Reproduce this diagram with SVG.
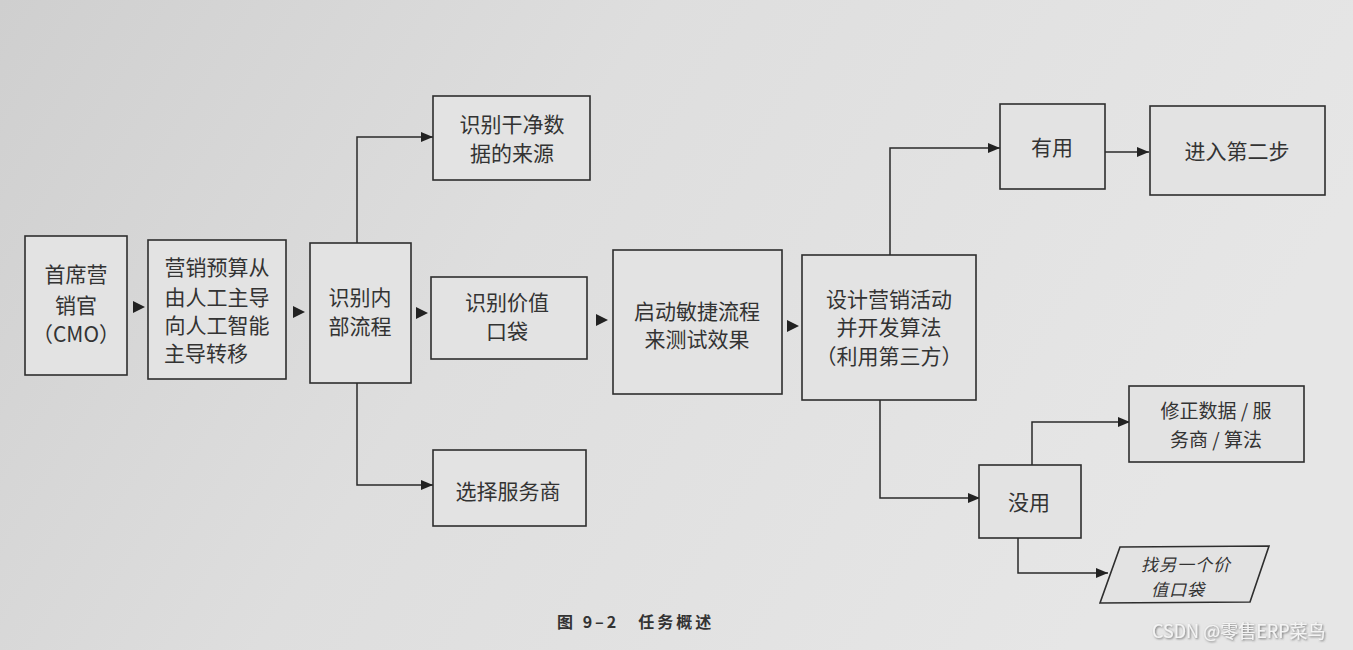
<svg xmlns="http://www.w3.org/2000/svg" width="1353" height="650" viewBox="0 0 1353 650">
<defs>
<linearGradient id="bg" x1="0" y1="0" x2="1" y2="0.3">
<stop offset="0" stop-color="#cfcfcf"/>
<stop offset="0.45" stop-color="#dedede"/>
<stop offset="1" stop-color="#e6e6e6"/>
</linearGradient>
<marker id="ah" viewBox="0 0 12 10" refX="12" refY="5" markerWidth="12" markerHeight="10" markerUnits="userSpaceOnUse" orient="auto">
<path d="M0,0 L12,5 L0,10 Z" fill="#222"/>
</marker>
<filter id="sh"><feDropShadow dx="1" dy="1" stdDeviation="0.8" flood-color="#555" flood-opacity="0.8"/></filter>
</defs>
<style>
.box{fill:#e3e3e3;stroke:#2e2e2e;stroke-width:1.6}
.t{font-family:"Noto Sans CJK SC","Noto Sans",sans-serif;font-size:21px;fill:#333;text-anchor:middle}
.s{font-size:19px}
.it{font-style:italic;font-size:17px;letter-spacing:1px}
.c{fill:none;stroke:#2a2a2a;stroke-width:1.5}
.a{fill:#222}
</style>
<rect width="1353" height="650" fill="url(#bg)"/>
<g id="connectors">
<path class="a" d="M133,301 L145,307 L133,313 Z"/>
<path class="a" d="M293,306 L305,312 L293,318 Z"/>
<path class="a" d="M416,307 L428,313 L416,319 Z"/>
<path class="a" d="M596,314 L608,320 L596,326 Z"/>
<path class="a" d="M787,320 L799,326 L787,332 Z"/>
<path class="c" d="M357,243 V137 H433" marker-end="url(#ah)"/>
<path class="c" d="M357,383 V485 H433" marker-end="url(#ah)"/>
<path class="c" d="M890,255 V148 H1000" marker-end="url(#ah)"/>
<path class="c" d="M1105,152 H1149" marker-end="url(#ah)"/>
<path class="c" d="M880,400 V498 H980" marker-end="url(#ah)"/>
<path class="c" d="M1032,465 V422 H1130" marker-end="url(#ah)"/>
<path class="c" d="M1018,538 V573 H1108" marker-end="url(#ah)"/>
</g>
<g id="n1"><rect class="box" x="25" y="236" width="102" height="139"/>
<text class="t" x="76" y="282">首席营</text><text class="t" x="76" y="313">销官</text><text class="t" x="76" y="342">（CMO）</text></g>
<g id="n2"><rect class="box" x="148" y="240" width="138" height="139"/>
<text class="t" x="217" y="275">营销预算从</text><text class="t" x="217" y="305">由人工主导</text><text class="t" x="217" y="333">向人工智能</text><text class="t" x="206" y="361">主导转移</text></g>
<g id="n3"><rect class="box" x="310" y="243" width="101" height="140"/>
<text class="t" x="360" y="305">识别内</text><text class="t" x="360" y="334">部流程</text></g>
<g id="n4"><rect class="box" x="433" y="96" width="157" height="84"/>
<text class="t" x="512" y="132">识别干净数</text><text class="t" x="512" y="161">据的来源</text></g>
<g id="n5"><rect class="box" x="431" y="277" width="156" height="82"/>
<text class="t" x="507" y="310">识别价值</text><text class="t" x="507" y="339">口袋</text></g>
<g id="n6"><rect class="box" x="433" y="450" width="153" height="76"/>
<text class="t" x="508" y="499">选择服务商</text></g>
<g id="n7"><rect class="box" x="613" y="250" width="169" height="144"/>
<text class="t" x="697" y="319">启动敏捷流程</text><text class="t" x="697" y="347">来测试效果</text></g>
<g id="n8"><rect class="box" x="802" y="255" width="174" height="145"/>
<text class="t" x="889" y="307">设计营销活动</text><text class="t" x="889" y="335">并开发算法</text><text class="t" x="889" y="364">（利用第三方）</text></g>
<g id="n9"><rect class="box" x="1000" y="104" width="105" height="85"/>
<text class="t" x="1052" y="155">有用</text></g>
<g id="n10"><rect class="box" x="1150" y="106" width="175" height="89"/>
<text class="t" x="1237" y="159">进入第二步</text></g>
<g id="n11"><rect class="box" x="1129" y="386" width="175" height="76"/>
<text class="t s" x="1216" y="418">修正数据 / 服</text><text class="t s" x="1216" y="447">务商 / 算法</text></g>
<g id="n12"><rect class="box" x="979" y="465" width="102" height="73"/>
<text class="t" x="1029" y="510">没用</text></g>
<g id="n13"><path class="box" d="M1120,547 L1269,546 L1250,602 L1100,603 Z"/>
<text class="t it" x="1186" y="571">找另一个价</text><text class="t it" x="1178" y="596">值口袋</text></g>
<text x="557" y="628" font-family="'Noto Sans CJK SC',sans-serif" font-size="16" font-weight="bold" letter-spacing="3" fill="#333">图 9–2　任务概述</text>
<text x="1152" y="638" font-family="'Noto Sans CJK SC',sans-serif" font-size="18" fill="#f4f4f4" filter="url(#sh)">CSDN @零售ERP菜鸟</text>
</svg>
